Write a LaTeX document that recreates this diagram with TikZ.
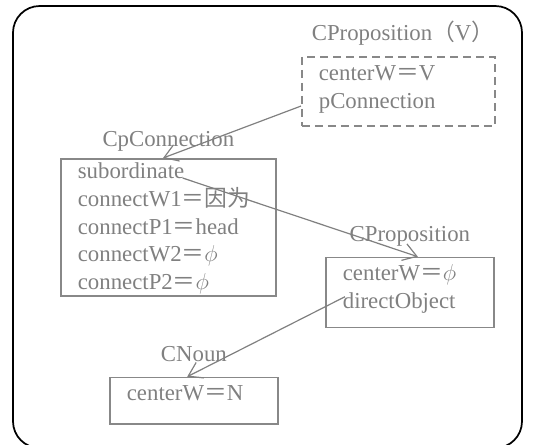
\documentclass[tikz,border=0pt]{standalone}
\usepackage{fontspec}
\setmainfont{Liberation Serif}
\newfontfamily\cjkfont{Noto Sans CJK SC}
\usetikzlibrary{arrows.meta}
\definecolor{inkgray}{RGB}{128,128,128}
\definecolor{rulegray}{RGB}{136,136,136}
\newcommand{\zeq}{{\cjkfont ＝}}
\newcommand{\slotfont}{\fontsize{17.1}{20.75}\selectfont}

\begin{document}
\begin{tikzpicture}[
    x=0.75pt, y=-0.75pt,
    frame/.style={draw=rulegray, line width=1.3pt, anchor=north west,
      align=left, inner xsep=12.75pt, inner ysep=0pt, text=inkgray,
      font=\slotfont},
    tag/.style={text=inkgray, font=\slotfont, inner sep=0pt,
      text depth=0pt, label distance=11.25pt},
    link/.style={draw=inkgray, line width=0.9pt,
      -{Straight Barb[length=10pt, width=13pt]}}]
    \useasboundingbox (0,0) rectangle (541,444);
    \clip (0,0) rectangle (541,444);
    \draw[line width=1.3pt, rounded corners=20pt] (13,6) rectangle (522,448);

    \node[frame, dash pattern=on 6pt off 3.75pt, text width=119.25pt,
      text height=18pt, text depth=33.75pt,
      label={[tag, xshift=3.5pt]above:CProposition{\cjkfont （}V{\cjkfont ）}}]
      (prop) at (301,56) {centerW\zeq V\\ pConnection};
    \node[frame, text width=135.75pt, text height=15pt, text depth=87.75pt,
      label={[tag, label distance=8.25pt]above:CpConnection}]
      (conn) at (60,158) {subordinate\\ connectW1\zeq{\cjkfont 因为}\\
        connectP1\zeq head\\ connectW2\zeq$\phi$\\ connectP2\zeq$\phi$};
    \node[frame, text width=100.5pt, text height=17.5pt, text depth=35pt,
      label={[tag]above:CProposition}]
      (obj) at (325,256.7) {centerW\zeq$\phi$\\ directObject};
    \node[frame, text width=100.5pt, text height=17.5pt, text depth=17.25pt,
      label={[tag]above:CNoun}]
      (noun) at (109,376.7) {centerW\zeq N};

    \draw[link] ([yshift=-11pt]prop.west) -- ([xshift=-4pt]conn.north);
    \draw[link] ([shift={(92pt,-15pt)}]conn.north west) -- ([xshift=6pt]obj.north);
    \draw[link] ([shift={(15pt,-30pt)}]obj.north west) -- ([xshift=-5pt]noun.north);
  \end{tikzpicture}
\end{document}
